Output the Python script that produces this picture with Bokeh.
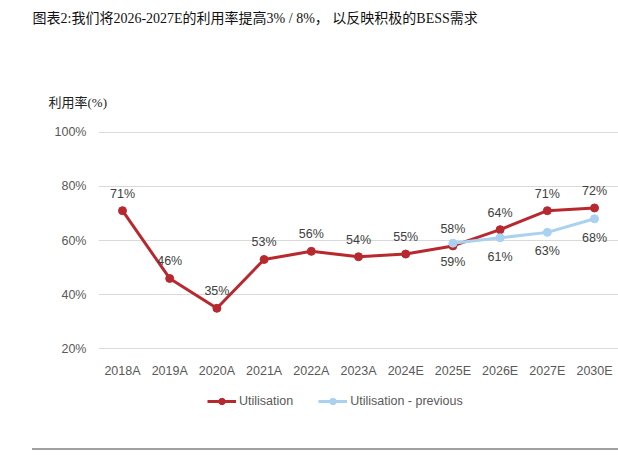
from bokeh.plotting import figure
from bokeh.models import Range1d, FixedTicker, Legend, LegendItem, ColumnDataSource, Title, Div
from bokeh.layouts import column
from bokeh.core.properties import value
from bokeh.embed import file_html
from bokeh.resources import INLINE

categories = ["2018A", "2019A", "2020A", "2021A", "2022A", "2023A", "2024E", "2025E", "2026E", "2027E", "2030E"]
utilisation = [71, 46, 35, 53, 56, 54, 55, 58, 64, 71, 72]
prev_categories = ["2025E", "2026E", "2027E", "2030E"]
utilisation_prev = [59, 61, 63, 68]
y_ticks = [20, 40, 60, 80, 100]
series_names = ["Utilisation", "Utilisation - previous"]

title_text = "图表2:我们将2026-2027E的利用率提高3% / 8%，  以反映积极的BESS需求"
ylabel_text = "利用率(%)"

RED = "#b8292f"
BLUE = "#a9d1f0"
SANS = "Liberation Sans"
SERIF = "'Liberation Serif', 'Noto Sans CJK SC'"
FS = "12.5px"
W = 618

x_red = [categories.index(c) for c in categories]
x_blue = [categories.index(c) for c in prev_categories]
src_red = ColumnDataSource(dict(x=x_red, y=utilisation, t=[f"{v}%" for v in utilisation]))
src_blue = ColumnDataSource(dict(x=x_blue, y=utilisation_prev, t=[f"{v}%" for v in utilisation_prev]))

# ---- main chart ----
p = figure(width=W, height=380, output_backend="svg", toolbar_location=None,
           x_range=Range1d(-0.5085, 10.508), y_range=Range1d(19.8, 100.2),
           min_border_left=98, min_border_right=0, min_border_top=131, min_border_bottom=29)
p.outline_line_color = None
p.title.text = ""

# stacked header panels (closest to the frame first)
p.add_layout(Title(text=ylabel_text, align="left", offset=-50, standoff=44,
                   text_font=SERIF, text_font_size="13px", text_font_style="normal",
                   text_color="#222222"), "above")
p.add_layout(Title(text=" ", align="left", standoff=23, text_font_size="10px"), "above")
p.add_layout(Title(text=title_text, align="left", offset=-66, standoff=17,
                   text_font=SERIF, text_font_size="14px", text_font_style="normal",
                   text_color="#111111"), "above")

p.xaxis.ticker = FixedTicker(ticks=x_red)
p.xaxis.major_label_overrides = {i: c for i, c in enumerate(categories)}
p.yaxis.ticker = FixedTicker(ticks=y_ticks)
p.yaxis.major_label_overrides = {t: f"{t}%" for t in y_ticks}
for ax in (p.xaxis, p.yaxis):
    ax.axis_line_color = None
    ax.major_tick_line_color = None
    ax.minor_tick_line_color = None
    ax.major_label_text_font = SANS
    ax.major_label_text_font_size = FS
    ax.major_label_text_color = "#595959"
p.xaxis.major_label_standoff = 8
p.yaxis.major_label_standoff = 6
p.xgrid.grid_line_color = None
p.ygrid.ticker = FixedTicker(ticks=y_ticks)
p.ygrid.grid_line_color = "#d9d9d9"
p.ygrid.grid_line_width = 1

p.line("x", "y", source=src_red, line_color=RED, line_width=3)
p.scatter("x", "y", source=src_red, size=8, fill_color=RED, line_color=RED)
p.line("x", "y", source=src_blue, line_color=BLUE, line_width=3)
p.scatter("x", "y", source=src_blue, size=8, fill_color=BLUE, line_color=BLUE)

p.text("x", "y", text="t", source=src_red, y_offset=-17, text_align="center", text_baseline="middle",
       text_font=value(SANS), text_font_size=FS, text_color="#404040")
p.text("x", "y", text="t", source=src_blue, y_offset=19, text_align="center", text_baseline="middle",
       text_font=value(SANS), text_font_size=FS, text_color="#404040")

# ---- legend strip (same frame alignment as the chart) ----
LEG_H = 65
leg = figure(width=W, height=LEG_H, output_backend="svg", toolbar_location=None,
             x_axis_location=None, y_axis_location=None,
             x_range=Range1d(-0.5085, 10.508), y_range=Range1d(200, 300),
             min_border_left=98, min_border_right=0, min_border_top=0, min_border_bottom=0)
leg.outline_line_color = None
leg.grid.visible = False
lr = leg.line("x", "y", source=src_red, line_color=RED, line_width=3)
sr = leg.scatter("x", "y", source=src_red, size=7, fill_color=RED, line_color=RED)
lb = leg.line("x", "y", source=src_blue, line_color=BLUE, line_width=3)
sb = leg.scatter("x", "y", source=src_blue, size=7, fill_color=BLUE, line_color=BLUE)
legend = Legend(items=[LegendItem(label=series_names[0], renderers=[lr, sr]),
                       LegendItem(label=series_names[1], renderers=[lb, sb])],
                orientation="horizontal", location=(109, 36), padding=0, margin=0,
                border_line_color=None, background_fill_alpha=0,
                glyph_width=29, glyph_height=16, label_standoff=3, spacing=25,
                label_text_font=SANS, label_text_font_size=FS, label_text_color="#595959")
leg.add_layout(legend, "center")

rule = Div(text="", width=586, height=2, margin=(3, 0, 0, 32),
           styles={"border-top": "2px solid #a0a0a0"})

open("out.html", "w").write(file_html(column(p, leg, rule, spacing=0), INLINE))
